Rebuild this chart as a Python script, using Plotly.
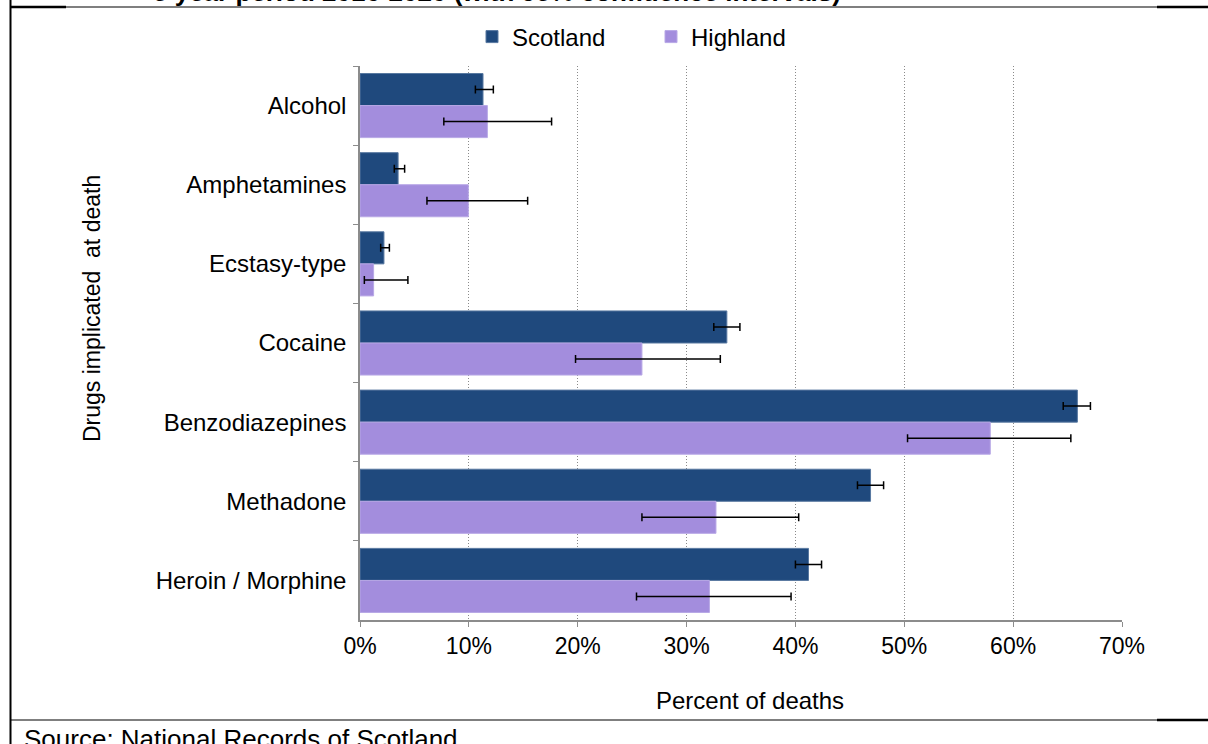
import plotly.graph_objects as go

categories = ["Alcohol", "Amphetamines", "Ecstasy-type", "Cocaine",
              "Benzodiazepines", "Methadone", "Heroin / Morphine"]
scotland = [11.3, 3.5, 2.2, 33.7, 65.9, 46.9, 41.2]
scotland_lo = [10.6, 3.15, 1.9, 32.5, 64.6, 45.7, 40.0]
scotland_hi = [12.25, 4.1, 2.7, 34.9, 67.1, 48.1, 42.4]
highland = [11.7, 9.95, 1.25, 25.9, 57.9, 32.7, 32.1]
highland_lo = [7.7, 6.15, 0.4, 19.8, 50.3, 25.9, 25.4]
highland_hi = [17.6, 15.4, 4.4, 33.1, 65.3, 40.3, 39.6]
x_ticks = [0, 10, 20, 30, 40, 50, 60, 70]
x_tick_labels = ["0%", "10%", "20%", "30%", "40%", "50%", "60%", "70%"]

W, H = 1208, 744
L, R, T, B = 360, 1122, 66, 620
FONT = "Liberation Sans, Arial, sans-serif"


def px(x):
    return (x - L) / (R - L)


def py(y):
    return (B - y) / (B - T)


fig = go.Figure()
fig.add_trace(go.Bar(
    name="Scotland", y=categories, x=scotland, orientation="h",
    marker=dict(color="#1F497D", line=dict(color="#5878A0", width=1)),
    error_x=dict(type="data", symmetric=False,
                 array=[h - v for h, v in zip(scotland_hi, scotland)],
                 arrayminus=[v - l for v, l in zip(scotland, scotland_lo)],
                 color="black", thickness=1.5, width=4),
))
fig.add_trace(go.Bar(
    name="Highland", y=categories, x=highland, orientation="h",
    marker=dict(color="#A38DDD", line=dict(color="#B8A8E6", width=1)),
    error_x=dict(type="data", symmetric=False,
                 array=[h - v for h, v in zip(highland_hi, highland)],
                 arrayminus=[v - l for v, l in zip(highland, highland_lo)],
                 color="black", thickness=1.5, width=4),
))

fig.update_layout(
    width=W, height=H,
    margin=dict(l=L, r=W - R, t=T, b=H - B),
    paper_bgcolor="white", plot_bgcolor="white",
    barmode="group", bargap=0.19, bargroupgap=0,
    font=dict(family=FONT, size=23, color="black"),
    showlegend=True,
    legend=dict(orientation="h", x=px(472), xanchor="left", y=py(37), yanchor="middle",
                font=dict(size=24), entrywidth=134, itemwidth=30,
                bgcolor="rgba(0,0,0,0)"),
    xaxis=dict(range=[0, 70], tickvals=x_ticks, ticktext=x_tick_labels,
               showgrid=True, gridcolor="#8A8A8A", griddash="1px,2px", gridwidth=1,
               showline=True, linecolor="#8C8C8C", linewidth=1.5,
               ticks="outside", ticklen=5, tickcolor="#8C8C8C",
               tickfont=dict(size=23), zeroline=False, fixedrange=True),
    yaxis=dict(autorange="reversed", type="category",
               showline=True, linecolor="#8C8C8C", linewidth=1.5,
               ticks="outside", ticklen=5, tickcolor="#8C8C8C", tickson="boundaries",
               ticklabelstandoff=7,
               tickfont=dict(size=24), showgrid=False, fixedrange=True),
)

annotations = [
    dict(text="Drugs implicated  at death", x=px(92), y=py(309), textangle=-90,
         xanchor="center", yanchor="middle", font=dict(size=23)),
    dict(text="Percent of deaths", x=px(750), y=py(700), xanchor="center",
         yanchor="middle", font=dict(size=24)),
    dict(text="<b>5 year period 2016-2020 (with 95% confidence intervals)</b>",
         x=px(497), y=py(9), xanchor="center", yanchor="bottom", font=dict(size=26)),
    dict(text="Source: National Records of Scotland", x=px(22), y=py(722),
         xanchor="left", yanchor="top", font=dict(size=26)),
]
for a in annotations:
    a.update(xref="paper", yref="paper", showarrow=False)
fig.update_layout(annotations=annotations)

segments = [
    (10.5, 0, 10.5, 744, 2),
    (10, 7, 66, 7, 2.5),
    (66, 7, 1157, 7, 1.2),
    (1157, 7, 1208, 7, 2.5),
    (10, 720, 1157, 720, 1.2),
    (1157, 720, 1208, 720, 2.5),
]
shapes = []
for x0, y0, x1, y1, w in segments:
    shapes.append(dict(type="line", xref="paper", yref="paper",
                       x0=px(x0), y0=py(y0), x1=px(x1), y1=py(y1),
                       line=dict(color="black", width=w)))
fig.update_layout(shapes=shapes)

fig.write_html("out.html")
